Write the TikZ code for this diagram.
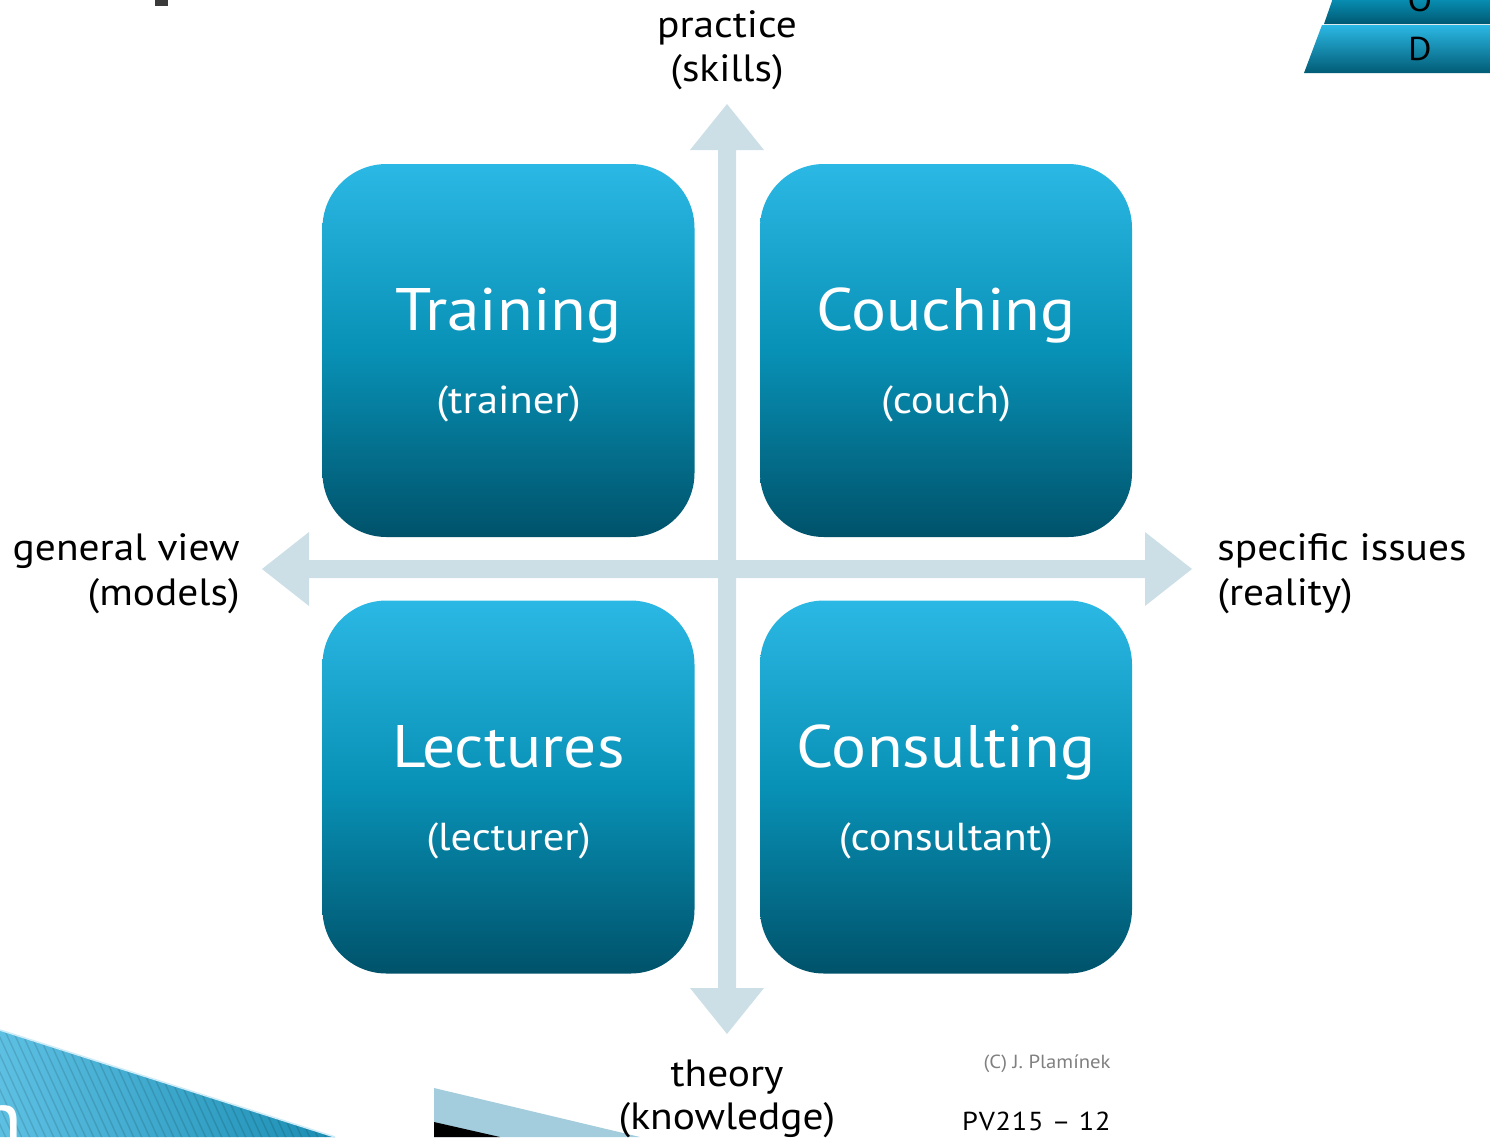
\documentclass[tikz,border=0pt]{standalone}
\usepackage{fontspec}
\setmainfont{PT Sans}[FakeStretch=1.09]
\usetikzlibrary{calc}
\definecolor{boxtop}{HTML}{2BB8E4}
\definecolor{boxmid}{HTML}{0891B6}
\definecolor{boxbot}{HTML}{00526A}
\definecolor{axis}{HTML}{CCDFE7}
\definecolor{copygray}{HTML}{808080}
\definecolor{tealight}{HTML}{5DC0E3}
\definecolor{tealdark}{HTML}{1A8DB2}
\definecolor{paleblue}{HTML}{A3CCDD}
\definecolor{darksq}{HTML}{3A3A3A}
\begin{document}
\begin{tikzpicture}[x=0.5pt,y=-0.5pt,
  qbox/.style={minimum width=186pt,minimum height=186.5pt,inner sep=0pt,
    rounded corners=32pt,top color=boxtop,bottom color=boxbot,middle color=boxmid,draw=none},
  ttl/.style={anchor=base,text=white,font=\fontsize{30}{36}\selectfont,inner sep=0pt},
  sub/.style={anchor=base,text=white,font=\fontsize{19.5}{23}\selectfont,inner sep=0pt},
  lbl/.style={font=\fontsize{19}{23}\selectfont,inner sep=0pt},
  stripe/.style={draw=black,draw opacity=0.12,line width=0.7pt}]
\useasboundingbox (0,0) rectangle (1490,1137);
\clip (0,0) rectangle (1490,1137);
% decorations
\fill[darksq] (155,0) rectangle (168,6);
\shade[top color=boxmid,bottom color=boxbot!90!boxmid] (1333,-2) -- (1490,-2) -- (1490,24) -- (1324,24) -- cycle;
\shade[top color=boxtop,bottom color=boxbot!85!boxmid] (1322,25) -- (1490,25) -- (1490,73) -- (1304,73) -- cycle;
\node[anchor=base,inner sep=0pt,font=\fontsize{16.5}{20}\selectfont] (oo) at (1420,11) {O};
\node[anchor=base,inner sep=0pt,font=\fontsize{16.5}{20}\selectfont] (dd) at (1420,60) {D};
\begin{scope}
  \clip (0,1030) -- (335,1137) -- (0,1137) -- cycle;
  \shade[left color=tealight,right color=tealdark] (0,1020) rectangle (340,1137);
  \foreach \i in {-80,-72,...,340} \draw[stripe] (\i,1020) -- ++(55,120);
\end{scope}
\draw[white!70!tealight,line width=0.8pt] (0,1030) -- (335,1137);
\node[anchor=base east,inner sep=0pt,text=white,font=\fontsize{38}{42}\selectfont] (nn) at (23,1144) {n};
\fill[paleblue] (434,1088) -- (640,1137) -- (434,1137) -- cycle;
\fill[black] (434,1122) -- (500,1137) -- (434,1137) -- cycle;
% axes
\fill[axis] (718,150) -- (690,150) -- (727,104) -- (764,150) -- (736,150)
  -- (736,988) -- (764,988) -- (727,1034) -- (690,988) -- (718,988) -- cycle;
\fill[axis] (309,560) -- (309,532) -- (262,569) -- (309,606) -- (309,578)
  -- (1145,578) -- (1145,606) -- (1192,569) -- (1145,532) -- (1145,560) -- cycle;
% boxes
\node[qbox] (tr) at (508.5,350.5) {};
\node[qbox] (co) at (946,350.5) {};
\node[qbox] (le) at (508.5,787) {};
\node[qbox] (cs) at (946,787) {};
\node[ttl] (trt) at ($(tr.center)+(0,-20)$) {Training};
\node[sub] (trs) at ($(tr.center)+(0,63)$) {(trainer)};
\node[ttl] (cot) at ($(co.center)+(0,-20)$) {Couching};
\node[sub] (cos) at ($(co.center)+(0,63)$) {(couch)};
\node[ttl] (let) at ($(le.center)+(0,-20)$) {Lectures};
\node[sub] (les) at ($(le.center)+(0,63)$) {(lecturer)};
\node[ttl] (cst) at ($(cs.center)+(0,-20)$) {Consulting};
\node[sub] (css) at ($(cs.center)+(0,63)$) {(consultant)};
% axis labels
\node[lbl,anchor=base] (pr1) at (727,37) {practice};
\node[lbl,anchor=base] (pr2) at (727,81) {(skills)};
\node[lbl,anchor=base east] (gv1) at (240,560) {general view};
\node[lbl,anchor=base east] (gv2) at (240,605) {(models)};
\node[lbl,anchor=base west] (sp1) at (1217,560) {specific issues};
\node[lbl,anchor=base west] (sp2) at (1217,605) {(reality)};
\node[lbl,anchor=base] (th1) at (727,1086) {theory};
\node[lbl,anchor=base] (th2) at (727,1129) {(knowledge)};
% footer
\node[anchor=base east,inner sep=0pt,text=copygray,font=\fontsize{9.5}{11}\selectfont] (cp) at (1111,1068) {(C) J. Plamínek};
\node[anchor=base east,inner sep=0pt,font=\fontsize{13}{15}\selectfont\addfontfeature{LetterSpace=3}] (pv) at (1111,1130) {PV215 – 12};
\end{tikzpicture}
\end{document}
